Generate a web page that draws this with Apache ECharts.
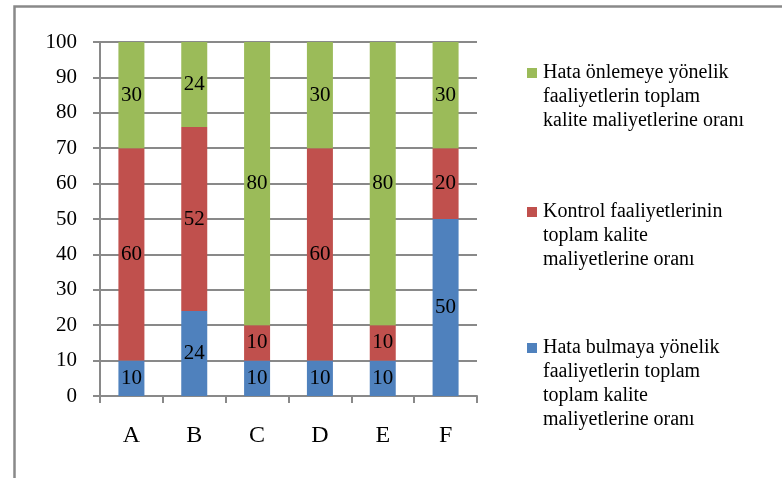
<!DOCTYPE html>
<html>
<head>
<meta charset="utf-8">
<script src="https://cdn.jsdelivr.net/npm/echarts@6/dist/echarts.min.js"></script>
<style>
  html, body { margin: 0; padding: 0; background: #fff; }
  #chart { width: 782px; height: 478px; }
</style>
</head>
<body>
<div id="chart"></div>
<script>
// Stacked shares (%) of quality-cost categories per firm
const categories = ['A', 'B', 'C', 'D', 'E', 'F'];
const hataBulma = [10, 24, 10, 10, 10, 50];      // blue, bottom
const kontrol = [60, 52, 10, 60, 10, 20];        // red, middle
const hataOnleme = [30, 24, 80, 30, 80, 30];     // green, top
const yTicks = [0, 10, 20, 30, 40, 50, 60, 70, 80, 90, 100];

const legendNames = [
  'Hata önlemeye yönelik\nfaaliyetlerin toplam\nkalite maliyetlerine oranı',
  'Kontrol faaliyetlerinin\ntoplam kalite\nmaliyetlerine oranı',
  'Hata bulmaya yönelik\nfaaliyetlerin toplam\ntoplam kalite\nmaliyetlerine oranı'
];

const FONT = '"Liberation Serif", "Times New Roman", serif';
const GREY = '#898989';
const colors = { green: '#9BBB59', red: '#C0504D', blue: '#4F81BD' };

const chart = echarts.init(document.getElementById('chart'), null, { renderer: 'canvas' });

function barSeries(name, data, color) {
  return {
    name: name,
    type: 'bar',
    stack: 'total',
    data: data,
    barWidth: 26,
    itemStyle: { color: color },
    label: {
      show: true,
      position: 'inside',
      color: '#000',
      fontFamily: FONT,
      fontSize: 21
    },
    emphasis: { disabled: true }
  };
}

function legendItem(top, color, text) {
  return [
    { type: 'rect', left: 527, top: top - 5, shape: { width: 10, height: 10 }, style: { fill: color } },
    { type: 'text', left: 543, top: top - 12,
      style: { text: text, fontFamily: FONT, fontSize: 20, lineHeight: 24, fill: '#000', verticalAlign: 'top' } }
  ];
}

chart.setOption({
  animation: false,
  backgroundColor: '#fff',
  grid: { left: 100, right: 305, top: 42, bottom: 82 },
  xAxis: {
    type: 'category',
    data: categories,
    axisLine: { lineStyle: { color: GREY, width: 2 } },
    axisTick: { show: true, length: 7, alignWithLabel: false, lineStyle: { color: GREY, width: 2 } },
    axisLabel: { color: '#000', fontFamily: FONT, fontSize: 24, margin: 28 },
    splitLine: { show: false }
  },
  yAxis: {
    type: 'value',
    min: 0,
    max: 100,
    interval: 10,
    axisLine: { show: true, lineStyle: { color: GREY, width: 2 } },
    axisTick: { show: true, length: 7, lineStyle: { color: GREY, width: 2 } },
    axisLabel: {
      color: '#000', fontFamily: FONT, fontSize: 21, margin: 23,
      formatter: v => (yTicks.includes(v) ? String(v) : '')
    },
    splitLine: { show: true, lineStyle: { color: GREY, width: 2 } }
  },
  series: [
    barSeries(legendNames[2], hataBulma, colors.blue),
    barSeries(legendNames[1], kontrol, colors.red),
    barSeries(legendNames[0], hataOnleme, colors.green)
  ],
  graphic: [
    // outer chart frame (only top and left edges fall inside the canvas)
    { type: 'rect', left: 12, top: 4, shape: { width: 800, height: 500 },
      style: { fill: 'none', stroke: GREY, lineWidth: 2.5 }, silent: true },
    ...legendItem(73, colors.green, legendNames[0]),
    ...legendItem(212, colors.red, legendNames[1]),
    ...legendItem(348, colors.blue, legendNames[2])
  ]
});
</script>
</body>
</html>
